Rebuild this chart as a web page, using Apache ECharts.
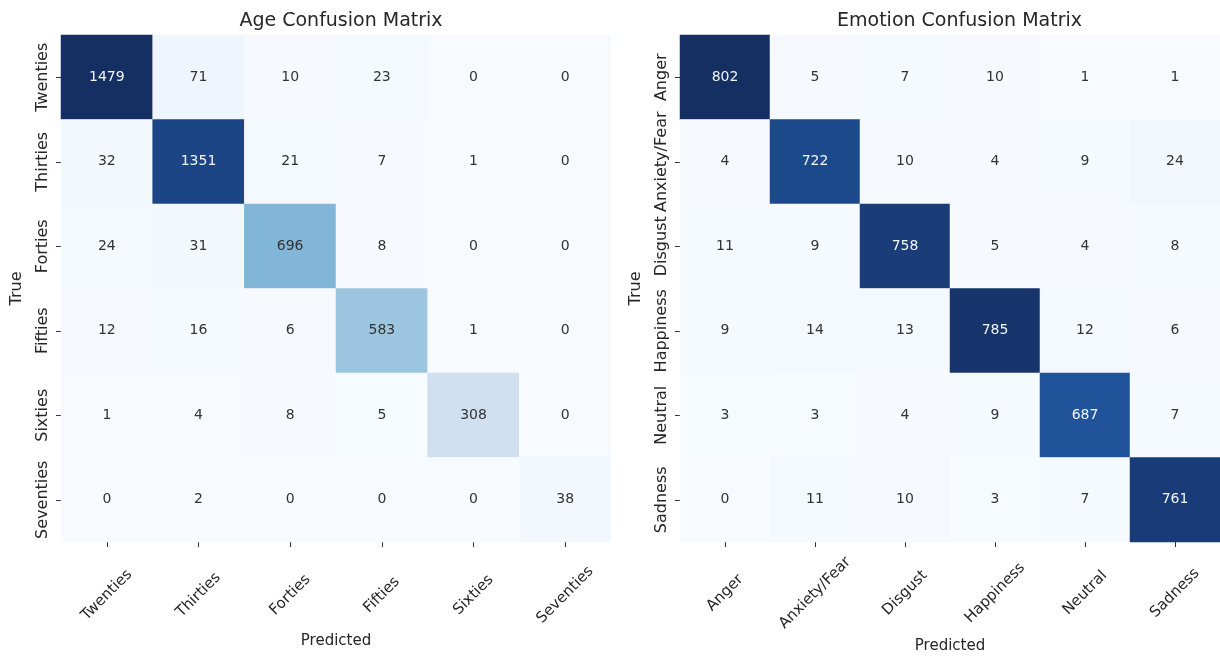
<!DOCTYPE html>
<html><head><meta charset="utf-8">
<script src="https://cdn.jsdelivr.net/npm/echarts@6/dist/echarts.min.js"></script>
<style>html,body{margin:0;padding:0;background:#fff}#c{width:1220px;height:661px}</style>
</head><body><div id="c"></div>
<script>
const ageLabels = ['Twenties','Thirties','Forties','Fifties','Sixties','Seventies'];
const ageMatrix = [
  [1479, 71, 10, 23, 0, 0],
  [32, 1351, 21, 7, 1, 0],
  [24, 31, 696, 8, 0, 0],
  [12, 16, 6, 583, 1, 0],
  [1, 4, 8, 5, 308, 0],
  [0, 2, 0, 0, 0, 38]
];
const emotionLabels = ['Anger','Anxiety/Fear','Disgust','Happiness','Neutral','Sadness'];
const emotionMatrix = [
  [802, 5, 7, 10, 1, 1],
  [4, 722, 10, 4, 9, 24],
  [11, 9, 758, 5, 4, 8],
  [9, 14, 13, 785, 12, 6],
  [3, 3, 4, 9, 687, 7],
  [0, 11, 10, 3, 7, 761]
];
const chartTitles = ['Age Confusion Matrix', 'Emotion Confusion Matrix'];
const xAxisTitle = 'Predicted';
const yAxisTitle = 'True';

const BLUES = ['#f7fbff','#e0ebf6','#c8dbee','#a2c9e1','#78b0d6','#4e8dc3','#2f6db1','#1e4f96','#162f63'];
const FONT = 'DejaVu Sans';
const TXT = '#262626';

function toData(m) {
  const mx = Math.max(...m.flat());
  const out = [];
  m.forEach((row, r) => row.forEach((v, c) => {
    out.push({ value: [c, r, v], label: { color: v / mx > 0.6 ? '#f2f5fa' : '#333333' } });
  }));
  return out;
}

const grids = [
  { left: 61, top: 35, width: 550, height: 507 },
  { left: 680, top: 35, width: 549, height: 507 }
];
const labelSets = [ageLabels, emotionLabels];
const mats = [ageMatrix, emotionMatrix];
const xMargins = [53, 51];
const xNameGaps = [82, 97];

const option = {
  backgroundColor: '#ffffff',
  animation: false,
  textStyle: { fontFamily: FONT },
  title: chartTitles.map((t, i) => ({
    text: t,
    left: grids[i].left + grids[i].width / 2,
    textAlign: 'center',
    top: 7,
    textStyle: { fontFamily: FONT, fontSize: 19, fontWeight: 'normal', color: TXT }
  })),
  grid: grids,
  xAxis: labelSets.map((labs, i) => ({
    type: 'category', gridIndex: i, data: labs, position: 'bottom',
    axisLine: { show: false },
    axisTick: { show: true, alignWithLabel: true, length: 5, lineStyle: { color: '#333' } },
    splitLine: { show: false },
    axisLabel: { rotate: 45, align: 'center', verticalAlign: 'middle', margin: xMargins[i],
      fontFamily: FONT, fontSize: 15, color: TXT, interval: 0 },
    name: xAxisTitle, nameLocation: 'middle', nameGap: xNameGaps[i],
    nameTextStyle: { fontFamily: FONT, fontSize: 15, color: TXT }
  })),
  yAxis: labelSets.map((labs, i) => ({
    type: 'category', gridIndex: i, data: labs, inverse: true,
    axisLine: { show: false },
    axisTick: { show: true, alignWithLabel: true, length: 5, lineStyle: { color: '#333' } },
    splitLine: { show: false },
    axisLabel: { rotate: 90, margin: 10, fontFamily: FONT, fontSize: 16, color: TXT, interval: 0 },
    name: yAxisTitle, nameLocation: 'middle', nameGap: 36,
    nameTextStyle: { fontFamily: FONT, fontSize: 16, color: TXT }
  })),
  visualMap: mats.map((m, i) => ({
    show: false, seriesIndex: i, dimension: 2, min: 0, max: Math.max(...m.flat()),
    inRange: { color: BLUES }
  })),
  series: mats.map((m, i) => ({
    type: 'heatmap', xAxisIndex: i, yAxisIndex: i,
    data: toData(m),
    label: { show: true, fontFamily: FONT, fontSize: 14 },
    itemStyle: { borderWidth: 0 },
    emphasis: { disabled: true }
  }))
};

const chart = echarts.init(document.getElementById('c'), null, { renderer: 'canvas' });
chart.setOption(option);
</script>
</body></html>
